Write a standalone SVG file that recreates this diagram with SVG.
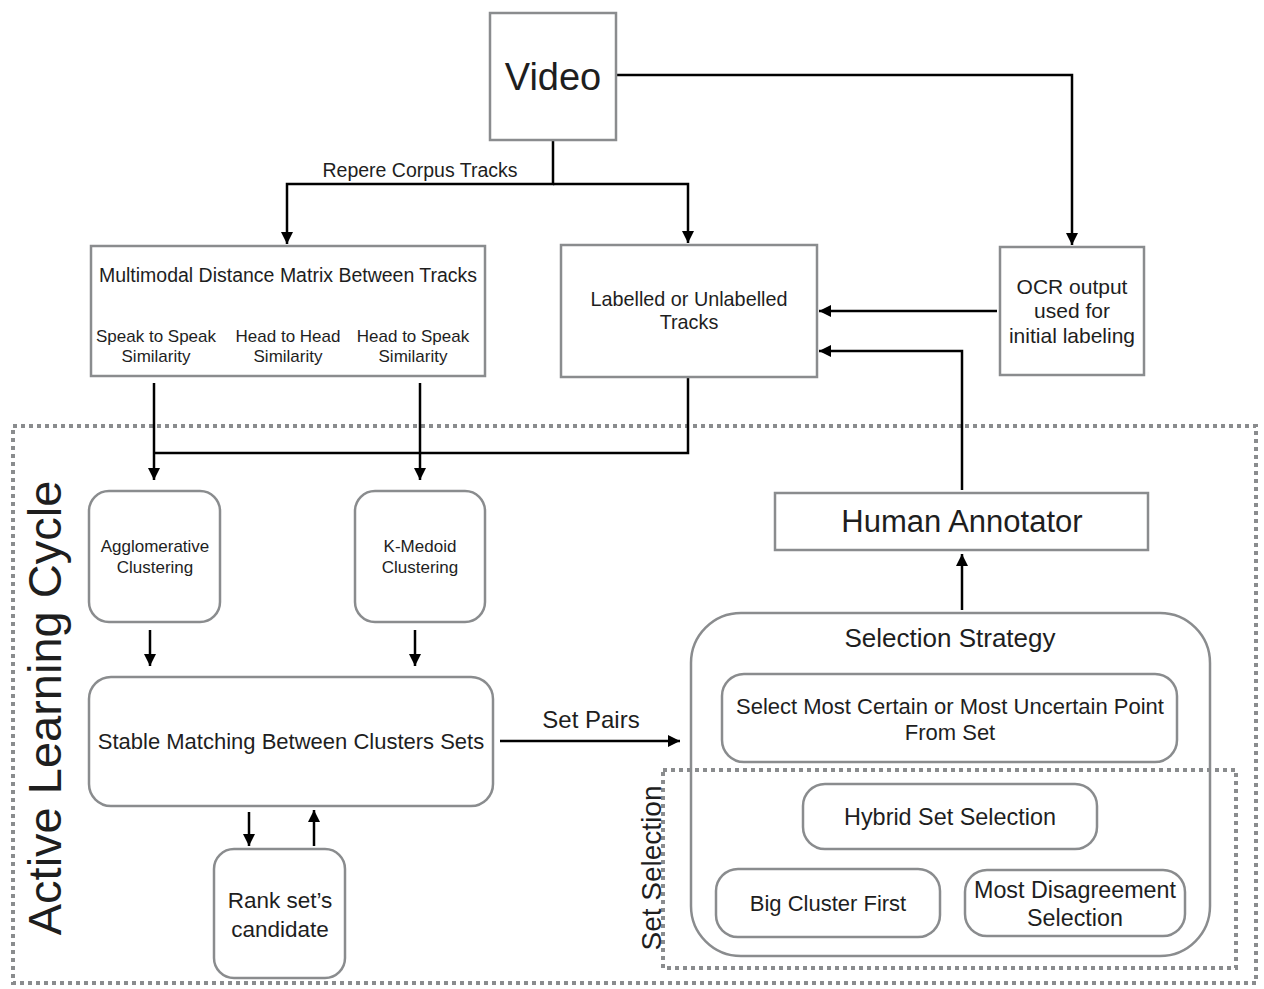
<svg xmlns="http://www.w3.org/2000/svg" width="1264" height="989" viewBox="0 0 1264 989">
<style>
.box{fill:#fff;stroke:#8a8c8e;stroke-width:2.5}
.dash{fill:none;stroke:#8a8c8e;stroke-width:4;stroke-dasharray:4 4}
.t{font-family:"Liberation Sans",Arial,sans-serif;fill:#1e1e1e;text-anchor:middle}
.ln{fill:none;stroke:#000;stroke-width:2.5}
</style>
<defs>
<marker id="ah" markerUnits="userSpaceOnUse" markerWidth="12" markerHeight="12" viewBox="0 0 12 12" refX="12" refY="6" orient="auto">
<path d="M0,0 L12,6 L0,12 Z" fill="#000"/>
</marker>
</defs>
<rect fill="#fff" width="1264" height="989"/>

<g id="containers">
<rect class="dash" x="13" y="426" width="1243" height="557"/>
<text class="t" transform="translate(61,708) rotate(-90)" font-size="47">Active Learning Cycle</text>
</g>

<g id="connectors">
<polyline class="ln" points="616,75 1072,75 1072,245" marker-end="url(#ah)"/>
<polyline class="ln" points="553,140 553,184 287,184 287,244" marker-end="url(#ah)"/>
<polyline class="ln" points="553,184 688,184 688,243" marker-end="url(#ah)"/>
<text class="t" x="420" y="177" font-size="19.5">Repere Corpus Tracks</text>
<line class="ln" x1="997" y1="311" x2="819" y2="311" marker-end="url(#ah)"/>
<polyline class="ln" points="962,490 962,351 819,351" marker-end="url(#ah)"/>
<line class="ln" x1="154" y1="383" x2="154" y2="480" marker-end="url(#ah)"/>
<line class="ln" x1="420" y1="383" x2="420" y2="480" marker-end="url(#ah)"/>
<polyline class="ln" points="688,377 688,453 154,453"/>
<line class="ln" x1="150" y1="630" x2="150" y2="666" marker-end="url(#ah)"/>
<line class="ln" x1="415" y1="630" x2="415" y2="666" marker-end="url(#ah)"/>
<line class="ln" x1="249" y1="812" x2="249" y2="846" marker-end="url(#ah)"/>
<line class="ln" x1="314" y1="846" x2="314" y2="810" marker-end="url(#ah)"/>
<line class="ln" x1="500" y1="741" x2="680" y2="741" marker-end="url(#ah)"/>
<text class="t" x="591" y="728" font-size="24">Set Pairs</text>
<line class="ln" x1="962" y1="610" x2="962" y2="554" marker-end="url(#ah)"/>
</g>

<g id="video">
<rect class="box" x="490" y="13" width="126" height="127"/>
<text class="t" x="553" y="90" font-size="38">Video</text>
</g>

<g id="multimodal">
<rect class="box" x="91" y="246" width="394" height="130"/>
<text class="t" x="288" y="282" font-size="19.5">Multimodal Distance Matrix Between Tracks</text>
<text class="t" x="156" y="342" font-size="17">Speak to Speak</text>
<text class="t" x="156" y="362" font-size="17">Similarity</text>
<text class="t" x="288" y="342" font-size="17">Head to Head</text>
<text class="t" x="288" y="362" font-size="17">Similarity</text>
<text class="t" x="413" y="342" font-size="17">Head to Speak</text>
<text class="t" x="413" y="362" font-size="17">Similarity</text>
</g>

<g id="labelled">
<rect class="box" x="561" y="245" width="256" height="132"/>
<text class="t" x="689" y="306" font-size="19.8">Labelled or Unlabelled</text>
<text class="t" x="689" y="329" font-size="19.8">Tracks</text>
</g>

<g id="ocr">
<rect class="box" x="1000" y="247" width="144" height="128"/>
<text class="t" x="1072" y="294" font-size="21">OCR output</text>
<text class="t" x="1072" y="318" font-size="21">used for</text>
<text class="t" x="1072" y="343" font-size="21">initial labeling</text>
</g>

<g id="agglomerative">
<rect class="box" x="89" y="491" width="131" height="131" rx="20"/>
<text class="t" x="155" y="552" font-size="17">Agglomerative</text>
<text class="t" x="155" y="573" font-size="17">Clustering</text>
</g>

<g id="kmedoid">
<rect class="box" x="355" y="491" width="130" height="131" rx="20"/>
<text class="t" x="420" y="552" font-size="17">K-Medoid</text>
<text class="t" x="420" y="573" font-size="17">Clustering</text>
</g>

<g id="stable">
<rect class="box" x="89" y="677" width="404" height="129" rx="22"/>
<text class="t" x="291" y="749" font-size="22">Stable Matching Between Clusters Sets</text>
</g>

<g id="rank">
<rect class="box" x="214" y="849" width="131" height="129" rx="20"/>
<text class="t" x="280" y="908" font-size="22.5">Rank set’s</text>
<text class="t" x="280" y="937" font-size="22.5">candidate</text>
</g>

<g id="human">
<rect class="box" x="775" y="493" width="373" height="57"/>
<text class="t" x="962" y="532" font-size="31">Human Annotator</text>
</g>

<g id="selection-strategy">
<rect class="box" x="691" y="613" width="519" height="343" rx="50"/>
<text class="t" x="950" y="647" font-size="26">Selection Strategy</text>
<rect class="box" x="722" y="674" width="455" height="88" rx="22"/>
<text class="t" x="950" y="714" font-size="22">Select Most Certain or Most Uncertain Point</text>
<text class="t" x="950" y="740" font-size="22">From Set</text>
</g>

<g id="set-selection">
<rect class="dash" x="663" y="770" width="573" height="198"/>
<text class="t" transform="translate(661,868) rotate(-90)" font-size="28">Set Selection</text>
</g>

<g id="hybrid">
<rect class="box" x="803" y="784" width="294" height="65" rx="22"/>
<text class="t" x="950" y="825" font-size="23.4">Hybrid Set Selection</text>
</g>

<g id="bigcluster">
<rect class="box" x="716" y="869" width="224" height="68" rx="22"/>
<text class="t" x="828" y="911" font-size="22">Big Cluster First</text>
</g>

<g id="disagreement">
<rect class="box" x="965" y="870" width="220" height="66" rx="22"/>
<text class="t" x="1075" y="898" font-size="23.3">Most Disagreement</text>
<text class="t" x="1075" y="926" font-size="23.3">Selection</text>
</g>
</svg>
